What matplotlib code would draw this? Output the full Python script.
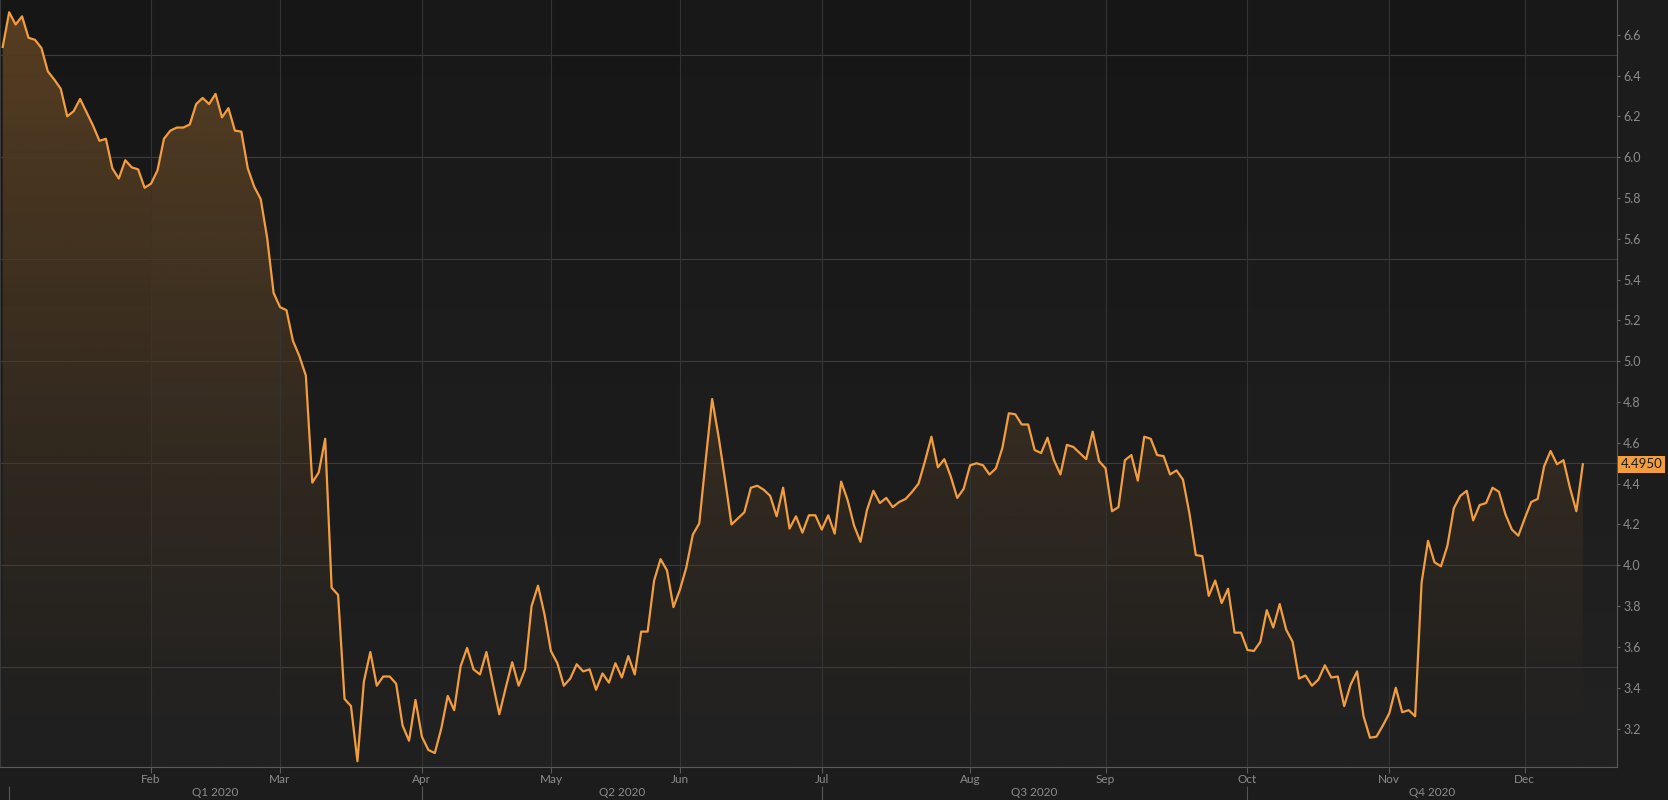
import matplotlib.pyplot as plt
import numpy as np
from matplotlib.colors import to_rgb

plt.rcParams['font.family'] = ['Lato', 'DejaVu Sans']

# daily closes, one per trading day (31 Dec 2019 .. mid Dec 2020)
values = [
    6.54, 6.71, 6.65, 6.69, 6.585, 6.575, 6.535, 6.42, 6.38, 6.335,
    6.20, 6.225, 6.285, 6.22, 6.155, 6.08, 6.09, 5.945, 5.895, 5.985,
    5.95, 5.94, 5.85, 5.87, 5.935, 6.09, 6.13, 6.145, 6.145, 6.16,
    6.26, 6.29, 6.26, 6.31, 6.195, 6.24, 6.13, 6.125, 5.945, 5.855,
    5.795, 5.605, 5.335, 5.265, 5.25, 5.10, 5.025, 4.93, 4.405, 4.455,
    4.62, 3.89, 3.855, 3.345, 3.31, 3.04, 3.43, 3.575, 3.41, 3.455,
    3.455, 3.42, 3.215, 3.14, 3.34, 3.16, 3.095, 3.08, 3.20, 3.36,
    3.29, 3.505, 3.595, 3.49, 3.465, 3.575, 3.42, 3.27, 3.40, 3.525,
    3.41, 3.49, 3.80, 3.90, 3.76, 3.58, 3.52, 3.41, 3.445, 3.515,
    3.48, 3.49, 3.39, 3.47, 3.425, 3.52, 3.45, 3.555, 3.465, 3.675,
    3.675, 3.925, 4.03, 3.975, 3.795, 3.88, 3.99, 4.15, 4.205, 4.515,
    4.815, 4.63, 4.42, 4.20, 4.23, 4.26, 4.38, 4.39, 4.37, 4.34,
    4.24, 4.38, 4.18, 4.24, 4.16, 4.245, 4.245, 4.175, 4.245, 4.155,
    4.41, 4.32, 4.195, 4.115, 4.27, 4.365, 4.305, 4.33, 4.285, 4.31,
    4.325, 4.36, 4.40, 4.51, 4.63, 4.48, 4.52, 4.435, 4.33, 4.375,
    4.49, 4.50, 4.49, 4.445, 4.475, 4.575, 4.745, 4.74, 4.69, 4.69,
    4.565, 4.55, 4.625, 4.515, 4.445, 4.59, 4.58, 4.55, 4.52, 4.655,
    4.51, 4.475, 4.265, 4.285, 4.515, 4.54, 4.415, 4.63, 4.62, 4.54,
    4.535, 4.445, 4.465, 4.42, 4.255, 4.05, 4.045, 3.85, 3.925, 3.815,
    3.885, 3.67, 3.67, 3.585, 3.58, 3.625, 3.78, 3.695, 3.81, 3.685,
    3.625, 3.445, 3.46, 3.41, 3.44, 3.51, 3.45, 3.455, 3.31, 3.415,
    3.48, 3.26, 3.155, 3.16, 3.215, 3.275, 3.40, 3.28, 3.29, 3.26,
    3.915, 4.12, 4.015, 3.995, 4.095, 4.28, 4.34, 4.365, 4.22, 4.295,
    4.305, 4.38, 4.36, 4.25, 4.175, 4.145, 4.23, 4.31, 4.325, 4.485,
    4.56, 4.495, 4.515, 4.38, 4.265, 4.495,
]

# index of the first trading day of each month / quarter
month_labels = ['Feb', 'Mar', 'Apr', 'May', 'Jun', 'Jul', 'Aug', 'Sep', 'Oct', 'Nov', 'Dec']
month_pos = [23, 43, 65, 85, 105, 127, 150, 171, 193, 215, 236]
quarter_labels = ['Q1 2020', 'Q2 2020', 'Q3 2020', 'Q4 2020']
quarter_pos = [1, 65, 127, 193]

line_color = '#f39e3e'
x = np.arange(len(values))

W, H = 1668, 800
fig = plt.figure(figsize=(W / 100, H / 100), dpi=100, facecolor='#1c1c1c')
ax = fig.add_axes([0, 33.3 / H, 1617 / W, 1 - 33.3 / H])
x0, x1 = -0.42, 250.3
y0, y1 = 3.013, 6.77
ax.set_xlim(x0, x1)
ax.set_ylim(y0, y1)
ax.set_facecolor('#1b1b1b')

# background: slight vertical gradient + alternating month bands
g = np.linspace(0, 1, 256)[:, None, None]
top, bot = np.array(to_rgb('#161616')), np.array(to_rgb('#202020'))
ax.imshow(top + (bot - top) * g, extent=[x0, x1, y0, y1], aspect='auto',
          origin='upper', zorder=0)
starts = [x0] + month_pos
ends = month_pos + [x1]
for i, (s, e) in enumerate(zip(starts, ends)):
    if i % 2 == 1:
        ax.axvspan(s, e, color='white', alpha=0.012, lw=0, zorder=0.5)

# gradient fill under the line
t = np.linspace(1, 0, 256)
fill = np.zeros((256, 1, 4))
fill[..., :3] = to_rgb(line_color)
fill[..., 3] = (0.30 * t ** 1.2)[:, None]
im = ax.imshow(fill, extent=[x0, x1, y0, y1], aspect='auto', origin='upper', zorder=1)
poly = ax.fill_between(x, values, y0, color='none', lw=0)
im.set_clip_path(poly.get_paths()[0], transform=ax.transData)

# grid
for lvl in np.arange(3.5, 6.6, 0.5):
    ax.axhline(lvl, color='#3c3c3c', lw=0.8, zorder=1.5)
for p in month_pos:
    ax.axvline(p, color='#343434', lw=0.8, zorder=1.5)

ax.plot(x, values, color=line_color, lw=1.6, zorder=3)

# axes styling
ax.spines['top'].set_visible(False)
ax.spines['right'].set_color('#5a5a5a')
ax.spines['bottom'].set_color('#5a5a5a')
ax.spines['left'].set_color('#3a3a3a')

ax.yaxis.tick_right()
yt = np.round(np.arange(3.2, 6.61, 0.2), 1)
ax.set_yticks(yt)
ax.set_yticklabels([f'{v:.1f}' for v in yt])
ax.tick_params(axis='y', colors='#666666', labelcolor='#8c8c8c', length=2.5,
               width=0.8, labelsize=9, pad=2)

ax.set_xticks(month_pos)
ax.set_xticklabels(month_labels)
ax.tick_params(axis='x', colors='#5a5a5a', labelcolor='#8c8c8c', length=4,
               width=0.8, labelsize=8.5, pad=1.5)

# quarter labels and separators below the month labels
xt = ax.get_xaxis_transform()
q_ends = quarter_pos[1:] + [x1]
for lab, s, e in zip(quarter_labels, quarter_pos, q_ends):
    ax.text((s + e) / 2, -0.034, lab, transform=xt, ha='center', va='center',
            color='#8c8c8c', fontsize=8.5, clip_on=False)
ax.vlines(quarter_pos, -0.0434, -0.0252, transform=xt, color='#555555',
          lw=0.8, clip_on=False)

# last value tag on the right axis
last = values[-1]
ax.text(1.0025, last, f'{last:.4f}', transform=ax.get_yaxis_transform(),
        ha='left', va='center', color='#1a1a1a', fontsize=9.5, zorder=5,
        clip_on=False,
        bbox=dict(boxstyle='square,pad=0.2', fc=line_color, ec='none'))

fig.savefig('out.png', dpi=100, facecolor=fig.get_facecolor())
